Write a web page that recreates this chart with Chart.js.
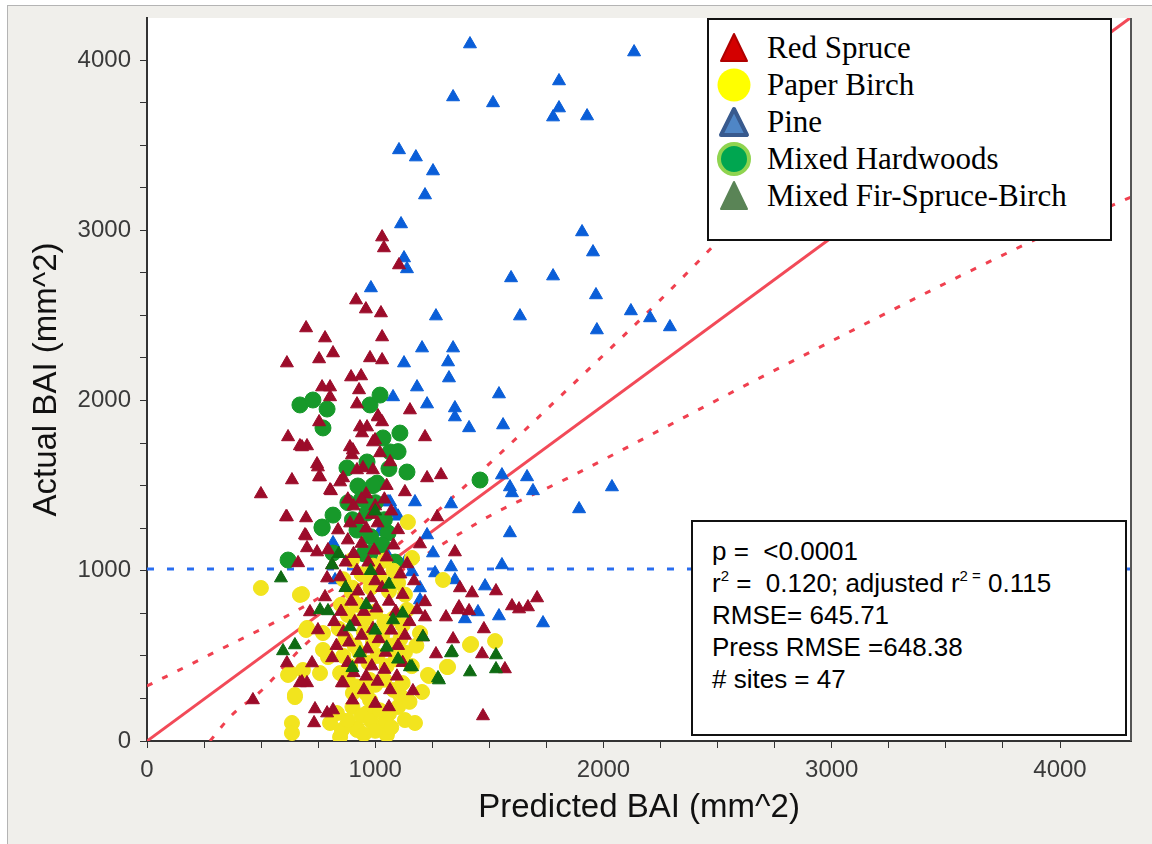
<!DOCTYPE html>
<html>
<head>
<meta charset="utf-8">
<script src="https://cdn.jsdelivr.net/npm/chart.js@4.4.0/dist/chart.umd.min.js"></script>
<style>
body { margin:0; background:#fff; width:1152px; height:844px; overflow:hidden; position:relative; font-family:"Liberation Sans", Arial, sans-serif; }
#frame { position:absolute; left:7px; top:5px; width:1145px; height:839px; background:#f0efeb; border-left:1px solid #b4b4b4; border-top:1px solid #b4b4b4; }
#myChart { position:absolute; left:0; top:0; }
.box { position:absolute; background:#fff; border:2px solid #111; box-sizing:border-box; }
#legendBox { left:707px; top:18px; width:405px; height:223px; font-family:"Liberation Serif", "Times New Roman", serif; font-size:31px; color:#000; }
.row { position:absolute; left:0; height:37px; line-height:37px; }
.row svg { position:absolute; left:7px; top:1px; }
.row span { position:absolute; left:58px; white-space:nowrap; }
#statsBox { left:691px; top:520px; width:436px; height:216px; font-size:26px; color:#000; padding:13px 0 0 19px; line-height:32px; }
#statsBox sup { font-size:15px; vertical-align:11px; line-height:0; }
</style>
</head>
<body>
<div id="frame"></div>
<canvas id="myChart" width="1152" height="844"></canvas>

<div class="box" id="legendBox">
  <div class="row" style="top:9px"><svg width="36" height="36"><polygon points="18,4 31,31 5,31" fill="#d40000" stroke="#b00000" stroke-width="2" stroke-linejoin="round"/></svg><span>Red Spruce</span></div>
  <div class="row" style="top:46px"><svg width="36" height="36"><circle cx="18" cy="18" r="16.5" fill="#ffff00"/></svg><span>Paper Birch</span></div>
  <div class="row" style="top:83px"><svg width="36" height="36"><polygon points="18,5 31,31 5,31" fill="#4f86c6" stroke="#385a8e" stroke-width="4" stroke-linejoin="round"/></svg><span>Pine</span></div>
  <div class="row" style="top:120px"><svg width="36" height="36"><circle cx="18" cy="18" r="15" fill="#00a650" stroke="#8fd44f" stroke-width="4"/></svg><span>Mixed Hardwoods</span></div>
  <div class="row" style="top:157px"><svg width="36" height="36"><polygon points="18,4 31,31 5,31" fill="#5a8456" stroke="#5a8456" stroke-width="2" stroke-linejoin="round"/></svg><span>Mixed Fir-Spruce-Birch</span></div>
</div>

<div class="box" id="statsBox">
  <div>p =&nbsp; &lt;0.0001</div>
  <div>r<sup>2</sup> =&nbsp; 0.120; adjusted r<sup>2 =</sup> 0.115</div>
  <div>RMSE= 645.71</div>
  <div>Press RMSE =648.38</div>
  <div># sites = 47</div>
</div>

<script>
// values: [predicted, actual]
var redSpruce = [
  [916,2590],[959,2537],[1025,2514],[697,2426],[780,2367],[1030,2373],[815,2279],[754,2244],[613,2220],[977,2250],
  [1030,2238],[894,2138],[938,2144],[767,2079],[802,2079],[929,2062],[802,2021],[920,1979],[1012,1909],[1030,1874],
  [754,1874],[618,1786],[670,1733],[701,1733],[942,1809],[964,1844],[990,1756],[889,1727],[898,1680],[1021,1692],
  [745,1627],[754,1551],[635,1533],[499,1451],[806,1469],[859,1545],[920,1592],[946,1604],[990,1592],[613,1316],
  [697,1310],[846,1521],[1030,2960],[1038,2896],[1104,2796],[1152,1944],[1218,1786],[1227,1545],[1288,1563],[1065,1639],
  [1271,1316],[1130,1463],[1196,1157],[1349,1110],[999,1768],[1012,1903],
  [697,1204],[701,1134],[745,1110],[793,1122],[662,1046],[837,1239],[789,957],[714,758],[749,652],[613,458],
  [670,341],[701,341],[464,241],[736,188],[732,106],[789,164],[815,182],[811,488],[859,341],[692,1210],
  [609,1316],[780,846],[846,963],[811,1034],[723,458],[679,346],[854,341],[933,1844],[902,1709],[802,1474],
  [749,1609],[758,1551],[679,1727],
  [1371,899],[1424,869],[1529,881],[1367,787],[1411,764],[1310,728],[1218,728],[1599,793],[1630,775],[1669,787],
  [1709,840],[1476,658],[1341,599],[1468,511],[1209,611],[1568,423],[1472,147],[1266,511],[1165,294],[1183,770],
  [1218,817],[1362,770],
  [880,1420],[905,1380],[930,1300],[960,1250],[985,1330],[1010,1280],[1040,1420],[1070,1350],[1100,1240],[880,1180],
  [905,1100],[940,1160],[970,1050],[995,1120],[1020,1000],[1050,1080],[1080,1150],[1110,980],[1140,1040],[1170,940],
  [870,900],[895,820],[925,880],[950,760],[980,840],[1005,780],[1030,900],[1060,820],[1090,760],[1120,860],
  [1150,700],[860,640],[885,580],[910,700],[940,620],[965,540],[990,660],[1015,600],[1045,520],[1070,650],
  [1100,560],[1130,620],[880,460],[905,400],[935,480],[960,380],[985,440],[1010,350],[1040,420],[1065,300],
  [1095,380],[1120,460],[900,240],[950,300],[1000,220],[1060,200],[920,1000],[1000,940],[850,760],[830,560],
  [820,700],[960,1450],[1050,1500],[1000,1380],[940,1420],[890,1280],[870,1050]
];
var paperBirch = [
  [499,899],[679,863],[697,652],[618,388],[648,258],[635,106],[635,47],[771,535],[846,24],[920,65],
  [802,106],[670,858],[701,664],[627,399],[648,270],[898,1063],[846,399],[854,65],[920,76],[832,164],
  [964,164],[771,634],[793,493],[898,869],[942,711],[977,946],[902,282],[977,358],[758,399],[683,417],
  [1415,564],[1314,435],[1143,1286],[1161,1075],[1297,946],[1139,770],[1196,634],[1231,388],[1108,270],[1043,112],
  [1130,123],[1174,106],[1051,35],[977,241],[1420,570],[1525,587],[1319,435],[1235,382],[1205,288],
  [860,950],[900,900],[940,980],[980,900],[1020,960],[1060,880],[1100,930],[1130,860],[850,800],[880,740],
  [920,800],[960,720],[1000,760],[1040,700],[1080,720],[1120,680],[840,660],[870,600],[910,560],[950,640],
  [990,580],[1030,620],[1070,560],[1110,600],[860,500],[890,440],[930,520],[970,460],[1010,500],[1050,440],
  [1090,480],[1130,520],[880,360],[920,320],[960,280],[1000,330],[1040,360],[1080,300],[1120,340],[900,200],
  [940,150],[980,120],[1020,180],[1060,160],[1100,200],[880,120],[1000,60],[950,40],[1070,80],[1150,230],
  [1160,440],[1180,560],[1080,1000],[1040,1060],[990,1030]
];
var pine = [
  [1415,4094],[2134,4047],[1805,3877],[1341,3783],[1516,3748],[1805,3718],[1779,3665],[1928,3671],[1104,3472],[1178,3430],
  [1253,3348],[1218,3207],[1113,3037],[1906,2990],[1954,2872],[1126,2837],[1139,2773],[1595,2720],[1779,2731],[1967,2620],
  [981,2661],[1266,2496],[1634,2496],[2120,2526],[2204,2485],[2291,2432],[1971,2414],
  [1205,2308],[1341,2308],[1126,2220],[1319,2226],[1323,2132],[1183,2079],[1542,2038],[1227,1979],[1349,1956],
  [1349,1903],[1411,1839],[1560,1856],[1078,2021],[1555,1562],[1665,1551],[1590,1492],[1599,1457],[1691,1469],
  [1174,1404],[1332,1392],[1065,1404],[1087,1339],[2037,1492],[1893,1363],
  [1590,1222],[1227,1210],[1253,1104],[1555,1034],[1332,1022],[1262,987],[1196,899],[1481,910],[1450,758],
  [1393,717],[1542,734],[1735,693],[1196,828],[1161,993],[1349,946],[1130,1051],[815,1163],[824,946],[1056,1404],
  [1050,1100],[1000,1060],[1080,950],[1100,1320],[1020,1230]
];
var mixedHardwoods = [
  [670,1974],[727,2003],[789,1950],[771,1839],[876,1604],[977,1974],[815,1327],[767,1257],[618,1063],[924,1498],
  [964,1639],[920,1239],[964,1339],[977,1104],[1021,2032],[1108,1809],[1139,1580],[1034,1780],[1065,1698],[1459,1533],
  [1008,1515],[1056,1222],[1087,1051],[767,1251],[815,1104],[1000,1400],[940,1420],[900,1300],[1040,1300],[980,1200],
  [1060,1600],[990,1500],[1100,1700],[880,1400],[950,1100],[1030,1150]
];
var mixedFirSpruceBirch = [
  [587,957],[596,529],[648,564],[811,1034],[758,770],[793,764],[889,670],[933,517],[1336,523],[1415,405],
  [1078,711],[1152,435],[1275,370],[1209,611],[1332,517],[1529,505],[1529,423],[1279,358],[1161,435],[870,900],
  [1000,650],[1050,550],[960,800],[1100,480],[900,430],[1120,750],[980,1000],[1060,920],[1000,1350],[840,1100]
];
var fitLine = [[0,0],[4310,4250]];
var upperBand = [[0,323],[254,493],[745,834],[1108,1163],[1384,1486],[1853,2079],[2248,2590],[2497,2931],[3400,4250]];
var lowerBand = [[276,0],[372,153],[495,288],[701,576],[1446,1280],[1853,1551],[2642,2103],[3869,2931],[4311,3195]];
var meanActual = 1010;
var xMax = 4311;
var yMax = 4247;
var tickValues = [0,250,500,750,1000,1250,1500,1750,2000,2250,2500,2750,3000,3250,3500,3750,4000];
var tickLabels = ['0','','','','1000','','','','2000','','','','3000','','','','4000'];

function toXY(list) {
    return list.map(function(p) { return {x: p[0], y: p[1]}; });
}

function pointSet(label, list, style, color, radius, order) {
    return {
        label: label,
        data: toXY(list),
        pointStyle: style,
        backgroundColor: color,
        borderColor: color,
        borderWidth: 1,
        pointRadius: radius,
        order: order
    };
}

function fixedTicks(scale) {
    scale.ticks = tickValues.map(function(v) { return {value: v}; });
}

var chartBg = {
    id: 'chartBg',
    beforeDraw: function(chart) {
        var a = chart.chartArea;
        var c = chart.ctx;
        c.save();
        c.fillStyle = '#ffffff';
        c.fillRect(a.left, a.top, a.right - a.left, a.bottom - a.top);
        c.restore();
    },
    afterDraw: function(chart) {
        var a = chart.chartArea;
        var c = chart.ctx;
        c.save();
        c.strokeStyle = '#555';
        c.lineWidth = 2;
        c.beginPath();
        c.moveTo(a.right, a.top);
        c.lineTo(a.right, a.bottom);
        c.stroke();
        c.restore();
    }
};

function drawChart() {
    var ctx = document.getElementById('myChart');
    var axisFont = { family: '"Liberation Sans", Arial, sans-serif', size: 33 };
    var tickFont = { family: '"Liberation Sans", Arial, sans-serif', size: 24 };
    var tickCb = function(v, i) { return tickLabels[i]; };

    var myChart = new Chart(ctx, {
        type: 'scatter',
        data: {
            datasets: [
                { label: 'upper', data: toXY(upperBand), showLine: true, pointRadius: 0, borderColor: '#f0404f', borderWidth: 3, borderDash: [6, 11], cubicInterpolationMode: 'monotone', clip: 0, order: 20 },
                { label: 'lower', data: toXY(lowerBand), showLine: true, pointRadius: 0, borderColor: '#f0404f', borderWidth: 3, borderDash: [6, 11], cubicInterpolationMode: 'monotone', clip: 0, order: 20 },
                { label: 'fit', data: toXY(fitLine), showLine: true, pointRadius: 0, borderColor: '#f24a58', borderWidth: 3, clip: 0, order: 19 },
                { label: 'mean', data: [{x: 0, y: meanActual}, {x: xMax, y: meanActual}], showLine: true, pointRadius: 0, borderColor: '#2a6ef0', borderWidth: 3, borderDash: [7, 13], clip: 0, order: 18 },
                pointSet('Pine', pine, 'triangle', '#0a5ed8', 7.5, 6),
                pointSet('Mixed Hardwoods', mixedHardwoods, 'circle', '#17992a', 8, 5),
                pointSet('Paper Birch', paperBirch, 'circle', '#f2e41e', 7.5, 4),
                pointSet('Red Spruce', redSpruce, 'triangle', '#9c0c2a', 7.5, 3),
                pointSet('Mixed Fir-Spruce-Birch', mixedFirSpruceBirch, 'triangle', '#0e6b12', 7.5, 2)
            ]
        },
        options: {
            responsive: false,
            animation: false,
            devicePixelRatio: 1,
            layout: { padding: { left: 0, top: 18, right: 21, bottom: 0 } },
            plugins: {
                legend: { display: false },
                tooltip: { enabled: false }
            },
            scales: {
                x: {
                    type: 'linear',
                    min: 0,
                    max: xMax,
                    afterBuildTicks: fixedTicks,
                    afterFit: function(s) { s.height = 103; s.paddingLeft = 0; s.paddingRight = 0; },
                    border: { display: true, color: '#333', width: 2 },
                    grid: { drawOnChartArea: false, drawTicks: true, tickLength: 7, color: '#333' },
                    ticks: { autoSkip: false, maxRotation: 0, padding: 8, color: '#3a3a3a', font: tickFont, callback: tickCb },
                    title: { display: true, text: 'Predicted BAI (mm^2)', color: '#111', font: axisFont, padding: { top: 0, bottom: 16 } }
                },
                y: {
                    type: 'linear',
                    min: 0,
                    max: yMax,
                    afterBuildTicks: fixedTicks,
                    afterFit: function(s) { s.width = 147; s.paddingTop = 0; s.paddingBottom = 0; },
                    border: { display: true, color: '#333', width: 2 },
                    grid: { drawOnChartArea: false, drawTicks: true, tickLength: 7, color: '#333' },
                    ticks: { autoSkip: false, padding: 9, color: '#3a3a3a', font: tickFont, callback: tickCb },
                    title: { display: true, text: 'Actual BAI (mm^2)', color: '#111', font: axisFont, padding: { top: 27, bottom: 0 } }
                }
            }
        },
        plugins: [chartBg]
    });
}

drawChart();
</script>
</body>
</html>
